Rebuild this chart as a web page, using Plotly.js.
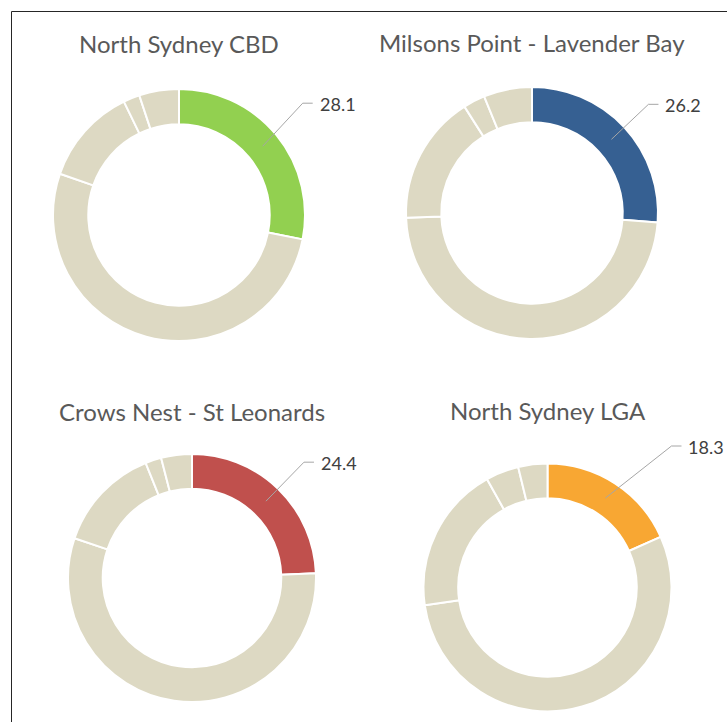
<!DOCTYPE html>
<html>
<head>
<meta charset="utf-8">
<script src="https://cdn.plot.ly/plotly-3.0.1.min.js"></script>
<style>
  html, body { margin: 0; padding: 0; background: #ffffff; }
  #chart { width: 727px; height: 722px; }
</style>
</head>
<body>
<div id="chart"></div>
<script>
// ---- data ----
const areas = ['North Sydney CBD', 'Milsons Point - Lavender Bay', 'Crows Nest - St Leonards', 'North Sydney LGA'];
const categories = ['Highlighted share', 'Other 1', 'Other 2', 'Other 3', 'Other 4'];
const northSydneyCBD = [28.1, 52.2, 12.5, 2.1, 5.1];
const milsonsPoint = [26.2, 48.2, 16.6, 2.8, 6.2];
const crowsNest = [24.4, 55.8, 13.7, 2.1, 4.0];
const northSydneyLGA = [18.3, 54.4, 19.2, 4.3, 3.8];
const seriesValues = [northSydneyCBD, milsonsPoint, crowsNest, northSydneyLGA];

// ---- styles / layout ----
const W = 727, H = 722;
const accentColors = ['#92d050', '#366092', '#c0504d', '#f8a733'];
const restColor = '#ddd9c3';
const HOLE = 0.72;
const panels = [
  {cx: 179,   cy: 215,   r: 126, elbow: [40, -43],   titleY: 44},
  {cx: 532,   cy: 213,   r: 126, elbow: [37, -35],   titleY: 43},
  {cx: 192,   cy: 578,   r: 124, elbow: [38, -39],   titleY: 411},
  {cx: 547.5, cy: 587.5, r: 124, elbow: [66, -52],   titleY: 410}
];
const px = x => x / W;
const py = y => 1 - y / H;

const traces = [];
const annotations = [];
const shapes = [];

seriesValues.forEach((vals, i) => {
  const p = panels[i];
  const colors = vals.map((v, j) => j === 0 ? accentColors[i] : restColor);
  traces.push({
    type: 'pie',
    values: vals,
    labels: categories,
    sort: false,
    direction: 'clockwise',
    rotation: 0,
    hole: HOLE,
    textinfo: 'none',
    hoverinfo: 'label+value',
    showlegend: false,
    marker: {colors: colors, line: {color: '#ffffff', width: 2}},
    domain: {x: [px(p.cx - p.r), px(p.cx + p.r)], y: [py(p.cy + p.r), py(p.cy - p.r)]}
  });

  // title
  annotations.push({
    xref: 'paper', yref: 'paper', x: px(p.cx), y: py(p.titleY),
    xanchor: 'center', yanchor: 'middle', showarrow: false,
    text: areas[i],
    font: {family: 'Lato, Carlito, sans-serif', size: 24, color: '#595959'}
  });

  // leader line from the middle of the first slice
  const total = vals.reduce((a, b) => a + b, 0);
  const midAngle = (vals[0] / total) * Math.PI; // half of slice angle (radians), clockwise from top
  const rMid = p.r * (1 + HOLE) / 2;
  const sx = p.cx + rMid * Math.sin(midAngle);
  const sy = p.cy - rMid * Math.cos(midAngle);
  const ex = sx + p.elbow[0], ey = sy + p.elbow[1];
  const hx = ex + 10;
  shapes.push({type: 'line', xref: 'paper', yref: 'paper', x0: px(sx), y0: py(sy), x1: px(ex), y1: py(ey),
               line: {color: '#a6a6a6', width: 1}});
  shapes.push({type: 'line', xref: 'paper', yref: 'paper', x0: px(ex), y0: py(ey), x1: px(hx), y1: py(ey),
               line: {color: '#a6a6a6', width: 1}});
  annotations.push({
    xref: 'paper', yref: 'paper', x: px(hx + 5), y: py(ey + 1),
    xanchor: 'left', yanchor: 'middle', showarrow: false,
    text: vals[0].toFixed(1),
    font: {family: 'Lato, Carlito, sans-serif', size: 18, color: '#404040'}
  });
});

// outer frame
shapes.push({type: 'rect', xref: 'paper', yref: 'paper', x0: px(11.5), x1: 1.2, y0: -0.2, y1: py(11.5),
             line: {color: '#262626', width: 1}, fillcolor: 'rgba(0,0,0,0)'});

const layout = {
  width: W, height: H,
  margin: {l: 0, r: 0, t: 0, b: 0},
  paper_bgcolor: '#ffffff',
  annotations: annotations,
  shapes: shapes
};

Plotly.newPlot('chart', traces, layout, {displayModeBar: false, staticPlot: false});
</script>
</body>
</html>
